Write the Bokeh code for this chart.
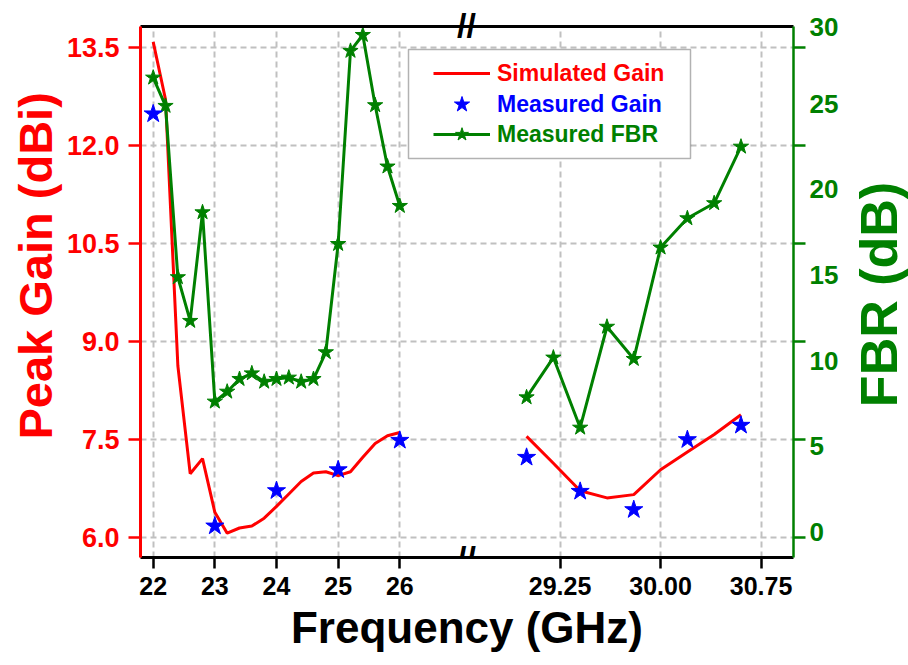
import math
from bokeh.plotting import figure
from bokeh.layouts import row
from bokeh.models import (Range1d, LinearAxis, FixedTicker, PrintfTickFormatter,
                          CustomJSTickFormatter, ColumnDataSource, Label, Legend,
                          LegendItem, BoxAnnotation)
from bokeh.embed import file_html
from bokeh.resources import INLINE

# ---------------- data ----------------
# lower band (22-26 GHz)
sim_freq_lo = [22.0, 22.2, 22.4, 22.6, 22.8, 23.0, 23.2, 23.4, 23.6, 23.8, 24.0,
               24.2, 24.4, 24.6, 24.8, 25.0, 25.2, 25.4, 25.6, 25.8, 26.0]
sim_gain_lo = [13.58, 12.70, 8.63, 6.98, 7.21, 6.39, 6.07, 6.15, 6.18, 6.30, 6.48,
               6.67, 6.86, 6.99, 7.01, 6.95, 7.01, 7.23, 7.44, 7.56, 7.61]
meas_freq_lo = [22.0, 23.0, 24.0, 25.0, 26.0]
meas_gain_lo = [12.48, 6.18, 6.72, 7.04, 7.49]
fbr_freq_lo = sim_freq_lo
fbr_lo = [26.52, 24.87, 14.87, 12.32, 18.66, 7.61, 8.19, 8.93, 9.26, 8.77, 8.93,
          9.01, 8.77, 8.93, 10.49, 16.81, 28.08, 29.01, 24.91, 21.33, 19.03]

# upper band (29-30.6 GHz)
sim_freq_hi = [29.0, 29.2, 29.4, 29.6, 29.8, 30.0, 30.2, 30.4, 30.6]
sim_gain_hi = [7.55, 7.14, 6.72, 6.61, 6.66, 7.04, 7.31, 7.58, 7.88]
meas_freq_hi = [29.0, 29.4, 29.8, 30.2, 30.6]
meas_gain_hi = [7.23, 6.71, 6.43, 7.50, 7.72]
fbr_freq_hi = [29.0, 29.2, 29.4, 29.6, 29.8, 30.0, 30.2, 30.4, 30.6]
fbr_hi = [7.86, 10.18, 6.09, 11.98, 10.10, 16.60, 18.31, 19.19, 22.49]

# tick values / labels
xticks_lo = [22, 23, 24, 25, 26]
xticks_hi = [29.25, 30.00, 30.75]
xtick_labels = ["22", "23", "24", "25", "26", "29.25", "30.00", "30.75"]
gain_ticks = [6.0, 7.5, 9.0, 10.5, 12.0, 13.5]
fbr_label_values = [0, 5, 10, 15, 20, 25, 30]

# ---------------- layout constants ----------------
W, H = 908, 665
TITLE_W = 66                                # strip holding the FBR title
PW = W - TITLE_W                            # width of the main plot
FL, FR, FT, FB = 140, 793, 26, 557          # plot-area edges in px
BREAK_X = 466                               # px column of the axis break
LO = (21.794, 32.386)                       # lower-band axis range (GHz)
HI = (26.119, 30.992)                       # upper-band axis range (GHz)
GAIN = (5.699, 13.816)
FBR = (-1.488, 29.504)

RED, BLUE, GREEN = "#ff0000", "#0000ff", "#008000"
FONT = "Liberation Sans"
NBSP = "\u00a0"


def px_x(px):
    """screen x (px) -> lower-band data units"""
    return LO[0] + (px - FL) * (LO[1] - LO[0]) / (FR - FL)


def px_y(py):
    """screen y (px) -> gain data units"""
    return GAIN[0] + (FB - py) * (GAIN[1] - GAIN[0]) / (FB - FT)


def hi_to_lo(v):
    return LO[0] + (v - HI[0]) * (LO[1] - LO[0]) / (HI[1] - HI[0])


def gain_to_fbr(g):
    return FBR[0] + (g - GAIN[0]) * (FBR[1] - FBR[0]) / (GAIN[1] - GAIN[0])


p = figure(width=PW, height=H, output_backend="svg", toolbar_location=None,
           x_range=Range1d(*LO), y_range=Range1d(*GAIN),
           min_border_left=FL, min_border_right=PW - FR,
           min_border_top=FT, min_border_bottom=H - FB)
p.extra_x_ranges = {"hi": Range1d(*HI)}
p.extra_y_ranges = {"fbr": Range1d(*FBR)}
p.outline_line_color = None
p.background_fill_color = "white"
p.border_fill_color = "white"

# ---------------- axes ----------------
xt = list(xticks_lo) + [hi_to_lo(v) for v in xticks_hi]
nearest_label = """
    let best = 0;
    for (let i = 1; i < tick_pos.length; i++) {
        if (Math.abs(tick_pos[i] - tick) < Math.abs(tick_pos[best] - tick)) best = i;
    }
    return tick_txt[best];
"""
xa = p.xaxis[0]
xa.ticker = FixedTicker(ticks=xt)
xa.formatter = CustomJSTickFormatter(args=dict(tick_pos=xt, tick_txt=xtick_labels),
                                     code=nearest_label)
xa.axis_line_color = "black"
xa.axis_line_width = 3
xa.major_tick_line_color = "black"
xa.major_tick_line_width = 2.5
xa.major_tick_out = 11
xa.major_tick_in = 0
xa.minor_tick_line_color = None
xa.major_label_text_font = FONT
xa.major_label_text_font_style = "bold"
xa.major_label_text_font_size = "25px"
xa.major_label_text_color = "black"
xa.major_label_standoff = 8
xa.axis_label = "Frequency (GHz)"
xa.axis_label_text_font = FONT
xa.axis_label_text_font_style = "bold"
xa.axis_label_text_font_size = "44px"
xa.axis_label_text_color = "black"
xa.axis_label_standoff = 5

ya = p.yaxis[0]
ya.ticker = FixedTicker(ticks=gain_ticks)
ya.formatter = PrintfTickFormatter(format="%.1f")
ya.axis_line_color = RED
ya.axis_line_width = 3
ya.major_tick_line_color = RED
ya.major_tick_line_width = 2.5
ya.major_tick_out = 12
ya.major_tick_in = 0
ya.minor_tick_line_color = None
ya.major_label_text_font = FONT
ya.major_label_text_font_style = "bold"
ya.major_label_text_font_size = "27px"
ya.major_label_text_color = RED
ya.major_label_standoff = 9
ya.axis_label = NBSP * 4 + "Peak Gain (dBi)"
ya.axis_label_text_font = FONT
ya.axis_label_text_font_style = "bold"
ya.axis_label_text_font_size = "47px"
ya.axis_label_text_color = RED
ya.axis_label_standoff = 2

# top frame line, carrying the axis-break mark
top_ticks = [px_x(BREAK_X)]
ta = LinearAxis(ticker=FixedTicker(ticks=top_ticks),
                formatter=CustomJSTickFormatter(code="return '//';"))
ta.axis_line_color = "black"
ta.axis_line_width = 3
ta.major_tick_line_color = None
ta.minor_tick_line_color = None
ta.major_tick_out = 0
ta.major_tick_in = 0
ta.major_label_standoff = -17
ta.major_label_text_font = FONT
ta.major_label_text_font_style = "bold"
ta.major_label_text_font_size = "34px"
ta.major_label_text_color = "black"
p.add_layout(ta, "above")

# right side: a tick-only axis that follows the gain grid ...
ra = LinearAxis(y_range_name="fbr",
                ticker=FixedTicker(ticks=[gain_to_fbr(g) for g in gain_ticks]),
                formatter=CustomJSTickFormatter(code="return '';"))
ra.axis_line_color = GREEN
ra.axis_line_width = 2.5
ra.major_tick_line_color = GREEN
ra.major_tick_line_width = 2.5
ra.major_tick_out = 12
ra.major_tick_in = 0
ra.minor_tick_line_color = None
ra.major_label_standoff = 0
p.add_layout(ra, "right")

# ... and the FBR value scale (the top value sits at the frame edge)
fbr_pos = [min(v, FBR[1] - 0.01) for v in fbr_label_values]
rl = LinearAxis(y_range_name="fbr", ticker=FixedTicker(ticks=fbr_pos),
                formatter=CustomJSTickFormatter(
                    args=dict(tick_pos=fbr_pos,
                              tick_txt=[str(v) for v in fbr_label_values]),
                    code=nearest_label))
rl.axis_line_color = None
rl.major_tick_line_color = None
rl.minor_tick_line_color = None
rl.major_tick_out = 0
rl.major_tick_in = 0
rl.major_label_standoff = 4
rl.major_label_text_font = FONT
rl.major_label_text_font_style = "bold"
rl.major_label_text_font_size = "26px"
rl.major_label_text_color = GREEN
p.add_layout(rl, "right")

p.grid.grid_line_color = "#c0c0c0"
p.grid.grid_line_dash = "6 4"
p.grid.grid_line_width = 2

# ---------------- data glyphs ----------------
src_sim_lo = ColumnDataSource(dict(f=sim_freq_lo, v=sim_gain_lo))
src_sim_hi = ColumnDataSource(dict(f=sim_freq_hi, v=sim_gain_hi))
src_meas_lo = ColumnDataSource(dict(f=meas_freq_lo, v=meas_gain_lo))
src_meas_hi = ColumnDataSource(dict(f=meas_freq_hi, v=meas_gain_hi))
src_fbr_lo = ColumnDataSource(dict(f=fbr_freq_lo, v=fbr_lo))
src_fbr_hi = ColumnDataSource(dict(f=fbr_freq_hi, v=fbr_hi))

r_sim = p.line("f", "v", source=src_sim_lo, line_color=RED, line_width=3)
p.line("f", "v", source=src_sim_hi, line_color=RED, line_width=3, x_range_name="hi")

r_fbr_line = p.line("f", "v", source=src_fbr_lo, line_color=GREEN, line_width=3,
                    y_range_name="fbr")
r_fbr_star = p.scatter("f", "v", source=src_fbr_lo, marker="star", size=16,
                       fill_color=GREEN, line_color=GREEN, y_range_name="fbr")
p.line("f", "v", source=src_fbr_hi, line_color=GREEN, line_width=3,
       x_range_name="hi", y_range_name="fbr")
p.scatter("f", "v", source=src_fbr_hi, marker="star", size=16, fill_color=GREEN,
          line_color=GREEN, x_range_name="hi", y_range_name="fbr")

r_meas = p.scatter("f", "v", source=src_meas_lo, marker="star", size=19,
                   fill_color=BLUE, line_color=BLUE)
p.scatter("f", "v", source=src_meas_hi, marker="star", size=19, fill_color=BLUE,
          line_color=BLUE, x_range_name="hi")

# ---------------- legend ----------------
p.add_layout(BoxAnnotation(left=px_x(408), right=px_x(690), top=px_y(49),
                           bottom=px_y(158), fill_color="white", fill_alpha=1,
                           line_color="black", line_width=1.5))

for label, rends, color, cy, gh in [("Simulated Gain", [r_sim], RED, 73, 32),
                                    ("Measured Gain", [r_meas], BLUE, 104, 40),
                                    ("Measured FBR", [r_fbr_line, r_fbr_star], GREEN, 134, 34)]:
    leg = Legend(items=[LegendItem(label=label, renderers=rends)],
                 location=(433 - FL, FB - (cy + gh / 2)),
                 glyph_width=57, glyph_height=gh, padding=0, margin=0, spacing=0,
                 border_line_color=None, background_fill_alpha=0,
                 label_standoff=7, label_text_font=FONT,
                 label_text_font_style="bold", label_text_font_size="23px",
                 label_text_color=color)
    p.add_layout(leg)

# axis-break mark on the bottom frame line
p.add_layout(Label(x=px_x(BREAK_X), y=GAIN[0], text="//", text_font=FONT,
                   text_font_size="34px", text_font_style="bold",
                   text_color="black", text_align="center",
                   text_baseline="middle"))

# ---------------- FBR title strip (text reads bottom to top) ----------------
# its plot area is aligned with the main one, so map it 1:1 onto pixel rows
t = figure(width=TITLE_W, height=H, output_backend="svg", toolbar_location=None,
           x_range=Range1d(0, TITLE_W), y_range=Range1d(H - FB, H - FT),
           x_axis_location=None, y_axis_location=None,
           min_border=0, min_border_left=0, min_border_right=0,
           min_border_top=0, min_border_bottom=0)
t.outline_line_color = None
t.grid.visible = False
t.background_fill_color = "white"
t.border_fill_color = "white"
t.add_layout(Label(x=878 - PW, y=H - 294, text="FBR (dB)", angle=math.pi / 2,
                   text_font=FONT, text_font_size="52px", text_font_style="bold",
                   text_color=GREEN, text_align="center", text_baseline="middle"))

layout = row(p, t, spacing=0)
open("out.html", "w").write(file_html(layout, INLINE))
